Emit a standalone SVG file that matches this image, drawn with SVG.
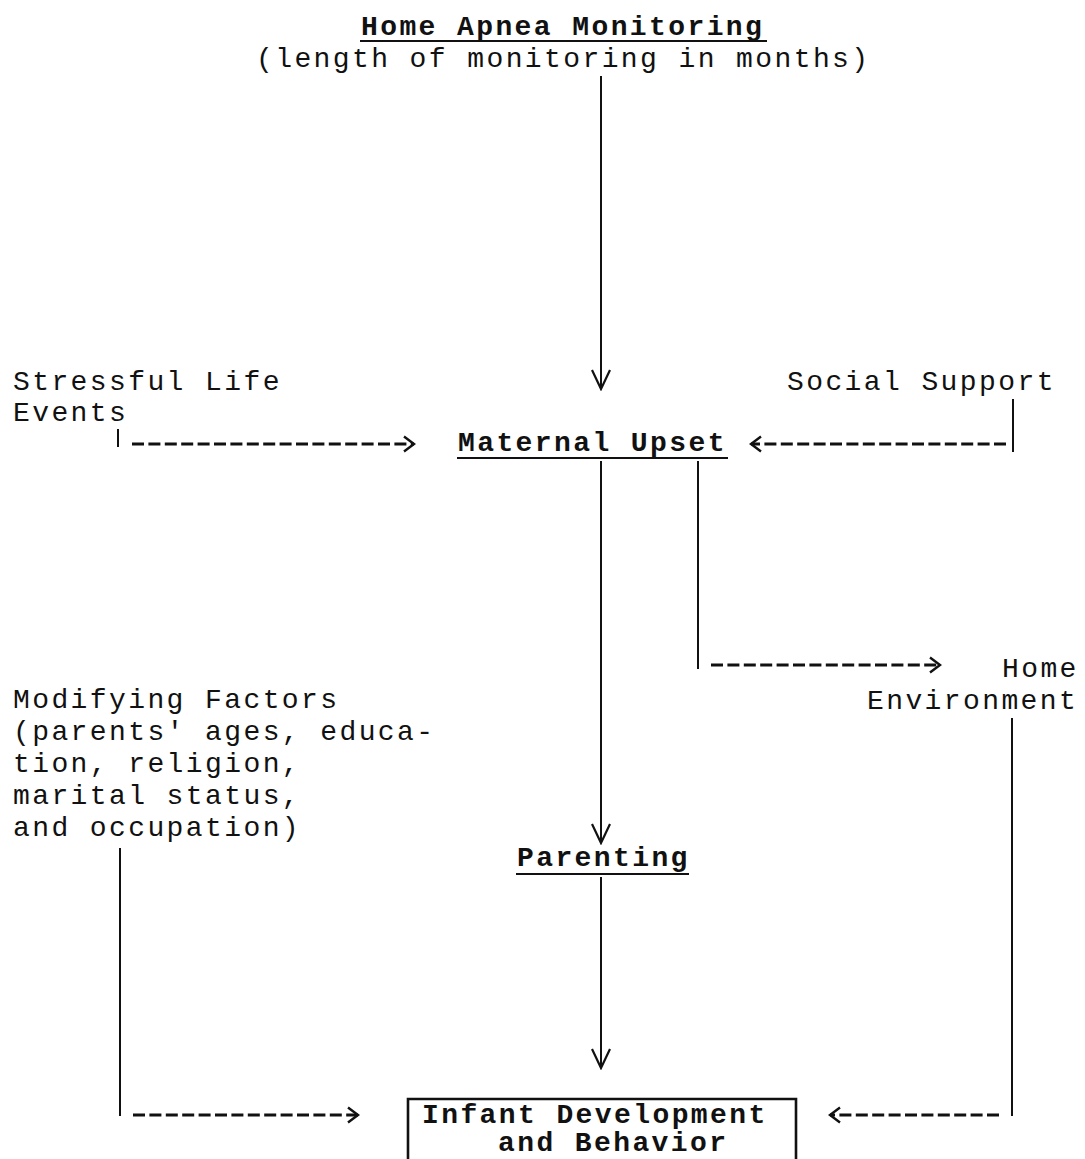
<svg xmlns="http://www.w3.org/2000/svg" width="1085" height="1159" viewBox="0 0 1085 1159">
<style>
text{font-family:"Liberation Mono","Courier New",monospace;font-size:28px;letter-spacing:2.4px;fill:#111}
.b{font-weight:bold}
.ln{stroke:#111;stroke-width:2;fill:none}
.ds{stroke:#111;stroke-width:3;fill:none;stroke-dasharray:12 4.4}
.ul{stroke:#111;stroke-width:2}
</style>
<defs>
<marker id="v" viewBox="-22 -11 24 22" refX="0" refY="0" markerWidth="24" markerHeight="22" markerUnits="userSpaceOnUse" orient="auto">
<path d="M-19,-9 L0,0 L-19,9" fill="none" stroke="#111" stroke-width="2.2"/>
</marker>
<marker id="ch" viewBox="-13 -10 15 20" refX="0" refY="0" markerWidth="15" markerHeight="20" markerUnits="userSpaceOnUse" orient="auto">
<path d="M-10,-7.5 L0,0 L-10,7.5" fill="none" stroke="#111" stroke-width="2.4"/>
</marker>
</defs>
<rect width="1085" height="1159" fill="#fff"/>

<g id="home-apnea">
<text class="b" x="361" y="35">Home Apnea Monitoring</text>
<line class="ul" x1="360" y1="41" x2="767" y2="41"/>
<text x="256" y="67">(length of monitoring in months)</text>
</g>

<g id="stressful">
<text x="13" y="390">Stressful Life</text>
<text x="13" y="421">Events</text>
</g>

<g id="social-support">
<text x="787" y="390">Social Support</text>
</g>

<g id="maternal-upset">
<text class="b" x="458" y="451">Maternal Upset</text>
<line class="ul" x1="457" y1="458" x2="728" y2="458"/>
</g>

<g id="home-environment">
<text x="1002" y="677">Home</text>
<text x="867" y="709">Environment</text>
</g>

<g id="modifying">
<text x="13" y="708">Modifying Factors</text>
<text x="13" y="740">(parents' ages, educa-</text>
<text x="13" y="772">tion, religion,</text>
<text x="13" y="804">marital status,</text>
<text x="13" y="836">and occupation)</text>
</g>

<g id="parenting">
<text class="b" x="517" y="866">Parenting</text>
<line class="ul" x1="516" y1="874" x2="689" y2="874"/>
</g>

<g id="infant">
<path d="M408,1161 V1099 H796 V1161" fill="none" stroke="#111" stroke-width="2.6"/>
<text class="b" x="422" y="1123">Infant Development</text>
<text class="b" x="498" y="1151">and Behavior</text>
</g>

<g id="connectors">
<line class="ln" x1="601" y1="76" x2="601" y2="389" marker-end="url(#v)"/>
<line class="ln" x1="118" y1="429" x2="118" y2="447"/>
<line class="ds" x1="132" y1="444" x2="414" y2="444" marker-end="url(#ch)"/>
<line class="ln" x1="1013" y1="399" x2="1013" y2="452"/>
<line class="ds" x1="1006" y1="444" x2="751" y2="444" marker-end="url(#ch)"/>
<line class="ln" x1="601" y1="461" x2="601" y2="843" marker-end="url(#v)"/>
<polyline class="ln" points="698,461 698,669"/>
<line class="ds" x1="711" y1="665" x2="940" y2="665" marker-end="url(#ch)"/>
<line class="ln" x1="601" y1="877" x2="601" y2="1068" marker-end="url(#v)"/>
<line class="ln" x1="120" y1="848" x2="120" y2="1116"/>
<line class="ds" x1="133" y1="1115" x2="358" y2="1115" marker-end="url(#ch)"/>
<line class="ln" x1="1012" y1="718" x2="1012" y2="1116"/>
<line class="ds" x1="999" y1="1115" x2="830" y2="1115" marker-end="url(#ch)"/>
</g>
</svg>
